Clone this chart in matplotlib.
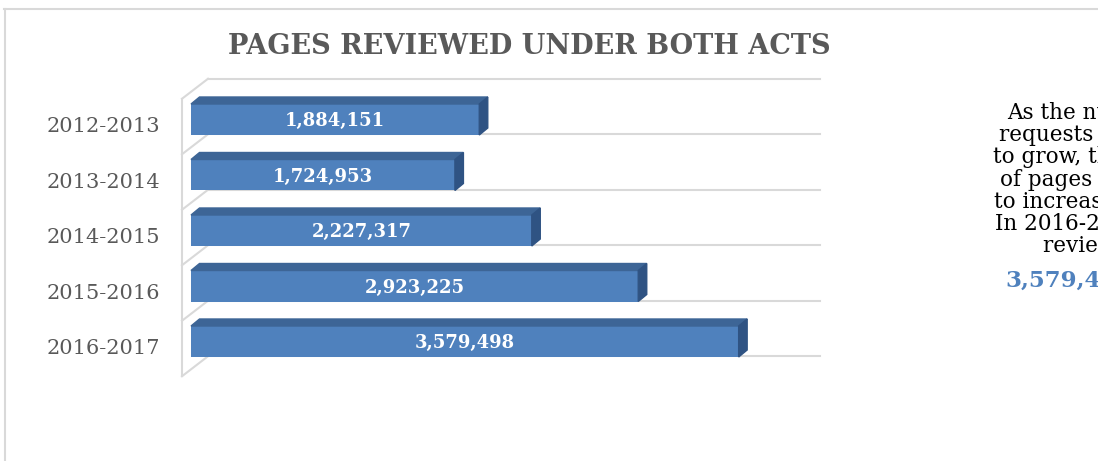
import matplotlib
matplotlib.use("Agg")
import matplotlib.pyplot as plt
from matplotlib.patches import Polygon
from matplotlib.lines import Line2D
from matplotlib.transforms import ScaledTranslation

# data
years = ["2012-2013", "2013-2014", "2014-2015", "2015-2016", "2016-2017"]
pages = [1884151, 1724953, 2227317, 2923225, 3579498]
title = "PAGES REVIEWED UNDER BOTH ACTS"
note_lines = ["As the number of", "requests continues", "to grow, the number",
              "of pages reviewed continues", "to increase.", "In 2016-2017, the pages",
              "reviewed were"]
note_total = "3,579,498"

W, H, DPI = 1098, 461, 100
fig = plt.figure(figsize=(W / DPI, H / DPI), dpi=DPI)

def px(x, y):
    # pixel (from top-left) -> figure fraction
    return x / W, 1 - y / H

# chart frame (runs off the right/bottom edge like the screenshot)
grid_c = "#D9D9D9"
fig.add_artist(Line2D([4 / W, 1.0], [1 - 9 / H] * 2, color=grid_c, lw=1.5))
fig.add_artist(Line2D([4.5 / W] * 2, [0, 1 - 9 / H], color=grid_c, lw=1.5))

# front plane of the bars
xmax = 4000000
ax_l, ax_r, ax_t, ax_b = 191, 803, 91.75, 369.25
ax = fig.add_axes([ax_l / W, 1 - ax_b / H, (ax_r - ax_l) / W, (ax_b - ax_t) / H])
ax.set_xlim(0, xmax)
ax.set_ylim(len(years) - 0.5, -0.5)
ax.axis("off")

ppx = (ax_r - ax_l) / xmax            # pixels per unit x
ppy = (ax_b - ax_t) / len(years)      # pixels per category

def off(dx_px, dy_px):
    # pixel offset -> data offset (y axis inverted, up is negative px)
    return dx_px / ppx, dy_px / ppy

# walls / gridlines
bx, by = off(17, -13)    # back wall
fx, fy = off(-9, 7)      # front edge of left wall
for k in range(len(years) + 1):
    yb = k - 0.5
    ax.plot([bx, xmax + bx], [yb + by] * 2, color=grid_c, lw=1.5, zorder=1, clip_on=False)
    ax.plot([fx, bx], [yb + fy, yb + by], color=grid_c, lw=1.5, zorder=1, clip_on=False)
ax.plot([fx, fx], [-0.5 + fy, len(years) - 0.5 + fy], color=grid_c, lw=1.5, zorder=1,
        clip_on=False)

# 3d bars
front_c, top_c, side_c = "#4F81BD", "#3D6596", "#2F5383"
bh = 31 / ppy
dx, dy = off(8.5, -7)
for i, v in enumerate(pages):
    ax.barh(i, v, height=bh, color=front_c, zorder=3)
    t = i - bh / 2
    b = i + bh / 2
    ax.add_patch(Polygon([(0, t), (v, t), (v + dx, t + dy), (dx, t + dy)],
                         closed=True, color=top_c, zorder=3, clip_on=False))
    ax.add_patch(Polygon([(v, t), (v + dx, t + dy), (v + dx, b + dy), (v, b)],
                         closed=True, color=side_c, zorder=3, clip_on=False))
    ax.text(v / 2, i + 0.03, f"{v:,}", ha="center", va="center", color="white",
            fontsize=13, fontweight="bold", family="DejaVu Serif", zorder=4)

# category labels
lab_off = ScaledTranslation(-31 / DPI, 0, fig.dpi_scale_trans)
for i, yr in enumerate(years):
    ax.text(0, i + 7 / ppy, yr, ha="right", va="center", color="#595959",
            fontsize=15, family="DejaVu Serif", transform=ax.transData + lab_off)

# title
fig.text(*px(529, 47), title, ha="center", va="center", color="#595959",
         fontsize=19.5, fontweight="bold", family="DejaVu Serif")

# side note (cut off at the right edge, as in the screenshot)
note_x = [1007, 999, 993, 1000, 994, 995, 1043]
note_y = [113, 135, 157, 180, 202, 224, 246]
for s, x, y in zip(note_lines, note_x, note_y):
    fig.text(*px(x, y), s, ha="left", va="center", color="black",
             fontsize=15.5, family="DejaVu Serif")
fig.text(*px(1005, 281), note_total, ha="left", va="center", color="#4F81BD",
         fontsize=16.5, fontweight="bold", family="DejaVu Serif")

fig.savefig("out.png", dpi=DPI)
